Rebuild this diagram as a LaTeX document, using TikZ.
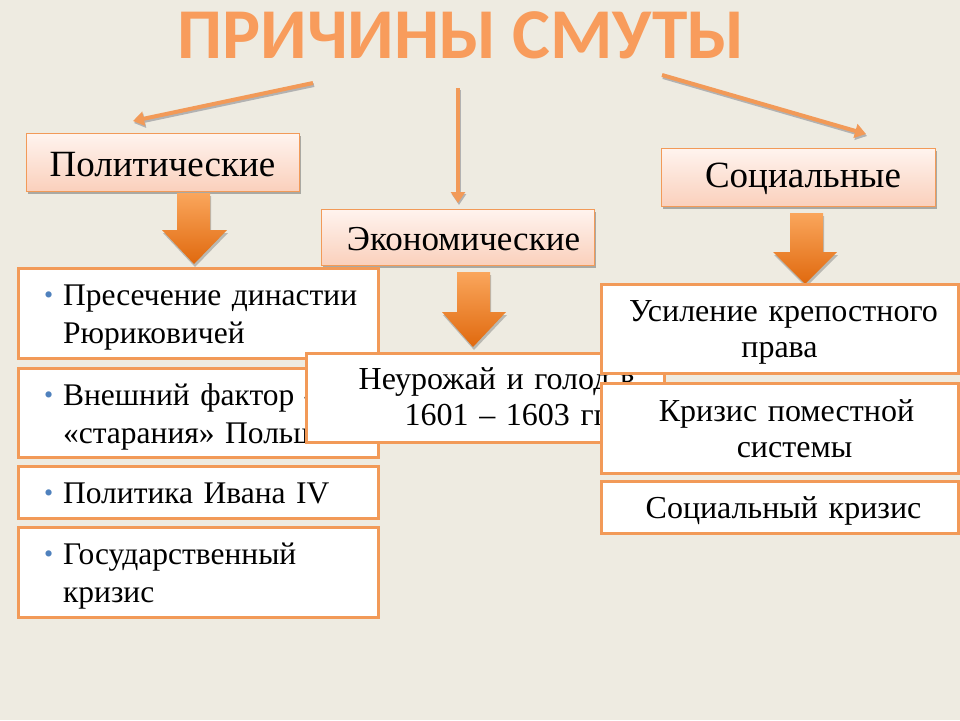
\documentclass[tikz,border=0pt]{standalone}
\usepackage{fontspec}
\setmainfont{Liberation Serif}
\newfontfamily\titlefont{Carlito}
\usetikzlibrary{shadows,arrows.meta}
\definecolor{bgc}{HTML}{EEEBE1}
\definecolor{orng}{HTML}{F29A58}
\definecolor{titlec}{HTML}{F89C5C}
\definecolor{hdtop}{HTML}{FFF4EF}
\definecolor{hdbot}{HTML}{FAD0BC}
\definecolor{arrtop}{HTML}{FAA65C}
\definecolor{arrbot}{HTML}{E0690E}
\definecolor{bulc}{HTML}{4F81BD}
\newcommand{\bul}{\textcolor{bulc}{\fontsize{26}{26}\selectfont\textbullet}}
\newcommand{\dn}[2]{\raisebox{-#1}[\height][\depth]{#2}}
\newcommand{\blist}[1]{\hspace*{26pt}\dn{4pt}{\begin{tabular}{@{}l@{\hspace{10pt}}l@{}}#1\end{tabular}}}
\newcommand{\clist}[1]{\dn{4pt}{\begin{tabular}{@{}c@{}}#1\end{tabular}}}
\tikzset{
  hdr/.style={draw=orng, line width=1pt, top color=hdtop, bottom color=hdbot,
    drop shadow={shadow xshift=2pt, shadow yshift=-3pt, opacity=0.45, fill=gray!70!black},
    font=\fontsize{37}{42}\selectfont, inner sep=0pt},
  wbox/.style={draw=orng, line width=3pt, fill=white, inner sep=0pt,
    font=\fontsize{31.5}{38}\selectfont},
  lbox/.style={wbox, text width=360pt, minimum width=360pt, align=left},
  rbox/.style={wbox, text width=357pt, minimum width=357pt, align=center,
    font=\fontsize{32}{36}\selectfont},
  tarrow/.style={draw=orng, line width=4pt, -{Triangle[length=11pt,width=14pt]},
    preaction={draw=gray!60, line width=4pt, -{Triangle[length=11pt,width=14pt]}, transform canvas={xshift=1pt,yshift=-2pt}}},
  blk/.style={top color=arrtop, bottom color=arrbot,
    drop shadow={shadow xshift=1pt, shadow yshift=-3pt, opacity=0.35, fill=gray!70!black}}
}
\begin{document}
\begin{tikzpicture}[x=1pt,y=-1pt]
\fill[bgc] (0,0) rectangle (960,720);
\useasboundingbox (0,0) rectangle (960,720);

% title
\node[anchor=base, text=titlec, font=\titlefont\bfseries\fontsize{71.5}{72}\selectfont, inner sep=0pt] (title) at (461,58) {ПРИЧИНЫ СМУТЫ};

% headers
\node[hdr, minimum width=273pt, minimum height=58pt] (pol) at (162.5,162) {\dn{2.5pt}{Политические}};
\node[hdr, minimum width=273pt, minimum height=56pt, font=\fontsize{35}{40}\selectfont] (eco) at (457.5,237) {\hspace*{12pt}\dn{2pt}{Экономические}};
\node[hdr, minimum width=274pt, minimum height=58pt] (soc) at (798,177) {\hspace*{10pt}\dn{2pt}{Социальные}};

% arrows from title
\coordinate (la) at (313,83);
\coordinate (lb) at (133,121);
\coordinate (ma) at (458,88);
\coordinate (mb) at (458,203);
\coordinate (ra) at (662,75);
\coordinate (rb) at (866,134);
\draw[tarrow] (la) -- (lb);
\draw[tarrow] (ma) -- (mb);
\draw[tarrow] (ra) -- (rb);

% block arrows
\shade[blk] (177,193) -- (210,193) -- (210,230) -- (227,230) -- (194,264) -- (162,230) -- (177,230) -- cycle;
\shade[blk] (457,272) -- (490,272) -- (490,312) -- (506,312) -- (473,347) -- (442,312) -- (457,312) -- cycle;
\shade[blk] (790,213) -- (823,213) -- (823,252) -- (837,252) -- (805,284) -- (773,252) -- (790,252) -- cycle;

% left column
\node[lbox, minimum height=90pt] (p1) at (198,313)
  {\blist{\raisebox{2pt}{\bul} & Пресечение династии\\ & Рюриковичей}};
\node[lbox, minimum height=89pt] (p2) at (198,412.5)
  {\blist{\raisebox{2pt}{\bul} & Внешний фактор -- \\ & «старания» Польши}};
\node[lbox, minimum height=52pt] (p3) at (198,492)
  {\blist{\raisebox{2pt}{\bul} & Политика Ивана IV}};
\node[lbox, minimum height=90pt] (p4) at (198,572)
  {\blist{\raisebox{2pt}{\bul} & Государственный\\ & кризис}};

% middle box
\node[wbox, minimum width=358pt, minimum height=89pt, text width=358pt, align=center,
  font=\fontsize{32}{36}\selectfont] (e1) at (485,397.5)
  {\dn{3pt}{\begin{tabular}{@{}c@{}}\hspace*{24pt}Неурожай и голод в\\\hspace*{46pt}1601 -- 1603 гг.\end{tabular}}};

% right column
\node[rbox, minimum height=89pt] (s1) at (779.5,328.5) {\clist{\hspace*{8pt}Усиление крепостного\\ права}};
\node[rbox, minimum height=90pt] (s2) at (779.5,428) {\clist{\hspace*{14pt}Кризис поместной\\\hspace*{30pt}системы}};
\node[rbox, minimum height=52pt] (s3) at (779.5,507) {\clist{\hspace*{8pt}Социальный кризис}};
\end{tikzpicture}
\end{document}
